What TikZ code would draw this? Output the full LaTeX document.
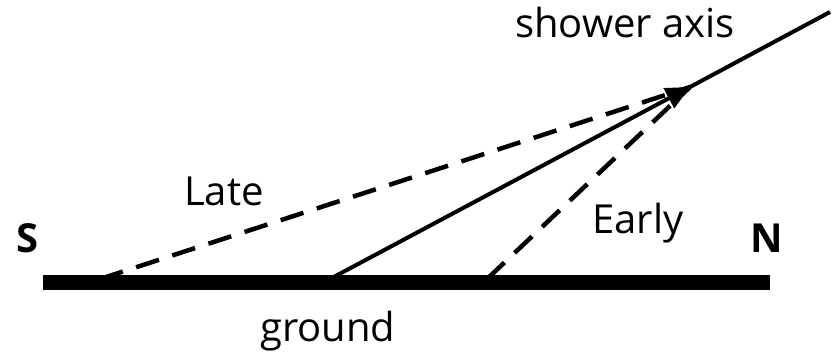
\documentclass[tikz,border=0pt]{standalone}
\usepackage{fontspec}
\setmainfont{Open Sans}
\usetikzlibrary{arrows.meta}
\begin{document}
\begin{tikzpicture}[x=1pt,y=-1pt,
  lbl/.style={inner sep=0pt,anchor=base west,font=\fontsize{40}{46}\selectfont},
  blbl/.style={lbl,font=\fontsize{40}{46}\selectfont\bfseries},
  dline/.style={line width=4.5pt,dash pattern=on 24pt off 14pt},
  sline/.style={line width=4pt}]
\useasboundingbox (0,0) rectangle (835,351);
\coordinate (gL) at (43,282.5);
\coordinate (gR) at (770,282.5);
\coordinate (late) at (100,279);
\coordinate (foot) at (330,279);
\coordinate (early) at (487,279);
\coordinate (tip) at (690,87);
\coordinate (top) at (830,12);
\draw[line width=15pt] (gL) -- (gR);
\draw[dline] (late) -- (tip);
\draw[dline] (early) -- (tip);
\draw[sline,-{Triangle[length=24pt,width=22pt]}] (foot) -- (tip);
\draw[sline] (tip) -- (top);
\node[lbl] (axis) at (515,37) {shower axis};
\node[lbl] (latel) at (184,205) {Late};
\node[lbl] (earlyl) at (592,233) {Early};
\node[lbl] (groundl) at (260,341) {ground};
\node[blbl] (S) at (16,252) {S};
\node[blbl] (N) at (750,252) {N};
\end{tikzpicture}
\end{document}
